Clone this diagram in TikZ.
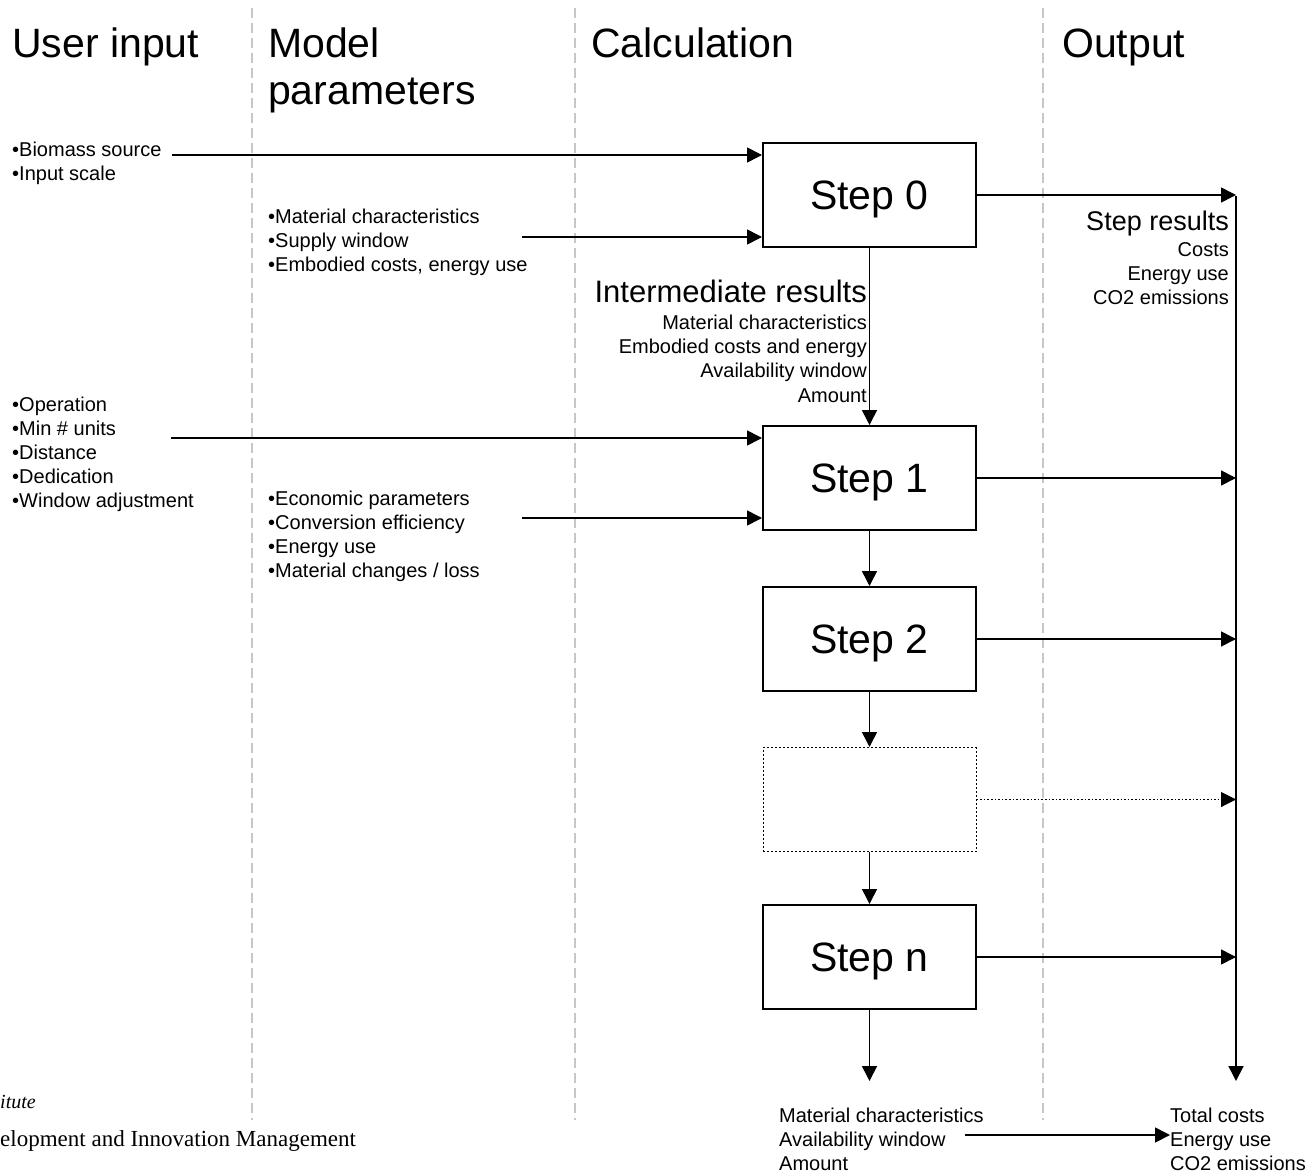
\documentclass[tikz,border=0pt]{standalone}
\usepackage{fontspec}
\setmainfont{Liberation Sans}
\newfontfamily\footfont{Liberation Serif}
\usepackage{tikz}
\usetikzlibrary{arrows.meta,positioning}

\begin{document}
\begin{tikzpicture} [
      x = 1pt, y = -1pt,
      inner sep = 0,
      stepbox/.style = { draw, line width = 2pt, minimum width = 213pt, minimum height = 104pt, text height = 29.4pt, text depth = 0pt, font = \fontsize{41}{41}\selectfont },
      arr/.style = { line width = 1.6pt, -{Triangle[length = 15pt, width = 15pt]} },
      lane/.style = { draw = black!22, line width = 1.4pt, dash pattern = on 10pt off 5pt },
      head/.style = { anchor = base west, align = left, font = \fontsize{41}{47}\selectfont },
      note/.style = { anchor = north west, align = left, font = \fontsize{20}{24}\selectfont },
      result/.style = { anchor = north east, align = right, font = \fontsize{20}{24.4}\selectfont }
      ]

      \useasboundingbox (0,0) rectangle (1308,1174);

      % swim lanes
      \draw [lane] (252,8) -- (252,1120);
      \draw [lane] (575,8) -- (575,1120);
      \draw [lane] (1043,8) -- (1043,1120);

      \node [head] (hin) at (12,58) {User input};
      \node [head] (hpar) at (268,105) {Model\\parameters};
      \node [head] (hcalc) at (591,58) {Calculation};
      \node [head] (hout) at (1062,58) {Output};

      % calculation steps
      \node [stepbox] (step0) at (869.5,195) {Step 0};
      \node [stepbox, below = 177pt of step0] (step1) {Step 1};
      \node [stepbox, below = 55pt of step1] (step2) {Step 2};
      \node [stepbox, dotted, line width = 1pt, below = 55pt of step2] (stepdots) {};
      \node [stepbox, below = 52pt of stepdots] (stepn) {Step n};

      % inputs
      \node [note] (user0) at (12,142) {•Biomass source\\•Input scale};
      \node [note] (param0) at (268,209) {•Material characteristics\\•Supply window\\•Embodied costs, energy use};
      \node [note] (user1) at (12,397) {•Operation\\•Min \# units\\•Distance\\•Dedication\\•Window adjustment};
      \node [note] (param1) at (268,491) {•Economic parameters\\•Conversion efficiency\\•Energy use\\•Material changes / loss};

      \coordinate (src0) at (172,155);
      \coordinate (par0) at (522,237);
      \coordinate (src1) at (171,438);
      \coordinate (par1) at (522,518);
      \draw [arr] (src0) -- (src0 -| step0.west);
      \draw [arr] (par0) -- (par0 -| step0.west);
      \draw [arr] (src1) -- (src1 -| step1.west);
      \draw [arr] (par1) -- (par1 -| step1.west);

      \node [result] (interm) at (867,280) {{\fontsize{31}{31}\selectfont Intermediate results}\\[2pt]Material characteristics\\Embodied costs and energy\\Availability window\\Amount};

      % chain
      \draw [arr] (step0) -- (step1);
      \draw [arr] (step1) -- (step2);
      \draw [arr] (step2) -- (stepdots);
      \draw [arr] (stepdots) -- (stepn);

      % outputs
      \coordinate (outtop) at (1236,196);
      \coordinate (outbot) at (1236,1081);
      \draw [arr] (outtop) -- (outbot);
      \draw [arr] (step0.east) -- (step0.east -| outtop);
      \draw [arr] (step1.east) -- (step1.east -| outtop);
      \draw [arr] (step2.east) -- (step2.east -| outtop);
      \draw [arr, dotted, line width = 1pt] (stepdots.east) -- (stepdots.east -| outtop);
      \draw [arr] (stepn.east) -- (stepn.east -| outtop);

      \node [result] (results) at (1229,211) {{\fontsize{27}{27}\selectfont Step results}\\[1pt]Costs\\Energy use\\CO2 emissions};

      \node [note] (final) at (779,1108) {Material characteristics\\Availability window\\Amount};
      \node [note] (totals) at (1170,1108) {Total costs\\Energy use\\CO2 emissions};
      \draw [arr] (stepn.south) -- (stepn.south |- outbot);
      \coordinate (fin0) at (965,1135);
      \draw [arr] (fin0) -- (fin0 -| totals.west);

      % clipped footer
      \node [anchor = base west, font = \footfont\itshape\fontsize{20}{20}\selectfont] (inst) at (0,1108) {itute};
      \node [anchor = base west, font = \footfont\fontsize{23}{23}\selectfont] (dept) at (0,1146) {elopment and Innovation Management};
    \end{tikzpicture}
\end{document}
